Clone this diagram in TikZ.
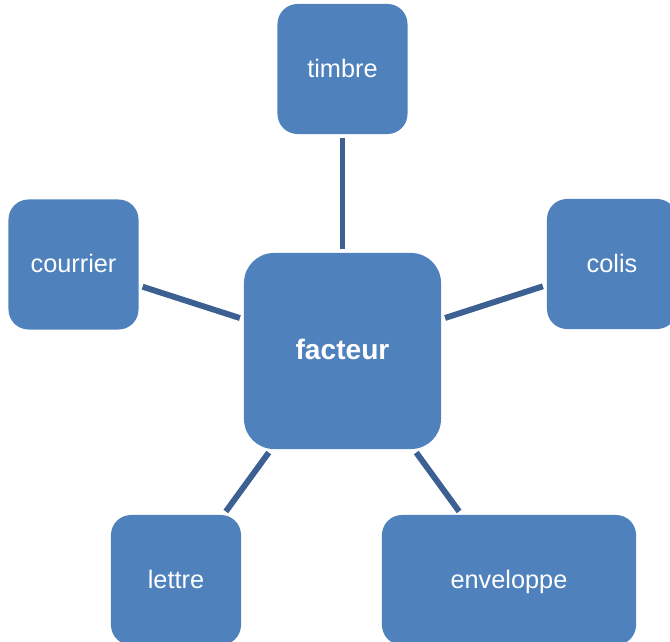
\documentclass[tikz,border=0pt]{standalone}
\usepackage{fontspec}
\setmainfont{Liberation Sans}
\usepackage{tikz}
\usetikzlibrary{positioning}
\usepackage{xcolor}
\definecolor{mapblue}{RGB}{79,129,189}
\definecolor{mapline}{RGB}{60,96,146}
\tikzstyle{link} = [line width=4.2pt, color=mapline, shorten >=0.1cm, shorten <=0.1cm]
\tikzstyle{topic} = [rectangle, rounded corners=0.5cm, minimum width=3.25cm, minimum height=3.25cm, inner sep=0pt, text height=15pt, text depth=3.6pt, text centered, fill=mapblue, text=white, font=\fontsize{18}{20}\selectfont]

\begin{document}
\begin{tikzpicture}[x=0.025cm, y=-0.025cm]
\clip (0,0) rectangle (670,642);
\useasboundingbox (0,0) rectangle (670,642);
% Central word and its five neighbours
\node (facteur) [topic, minimum width=4.925cm, minimum height=4.9cm, rounded corners=0.75cm, font=\fontsize{20}{22}\selectfont\bfseries] at (342.5,351) {facteur};

\node (timbre) [topic] at (342.5,69) {timbre};
\node (courrier) [topic] at (73.5,264.5) {courrier};
\node (colis) [topic] at (612,264) {colis};
\node (lettre) [topic] at (176,580) {lettre};
\node (enveloppe) [topic, minimum width=6.35cm] at (509,580) {enveloppe};

\draw[link] (timbre) -- (facteur);
\draw[link] (courrier) -- (facteur);
\draw[link] (colis) -- (facteur);
\draw[link] (lettre) -- (facteur);
\draw[link] (enveloppe) -- (facteur);
\end{tikzpicture}
\end{document}
